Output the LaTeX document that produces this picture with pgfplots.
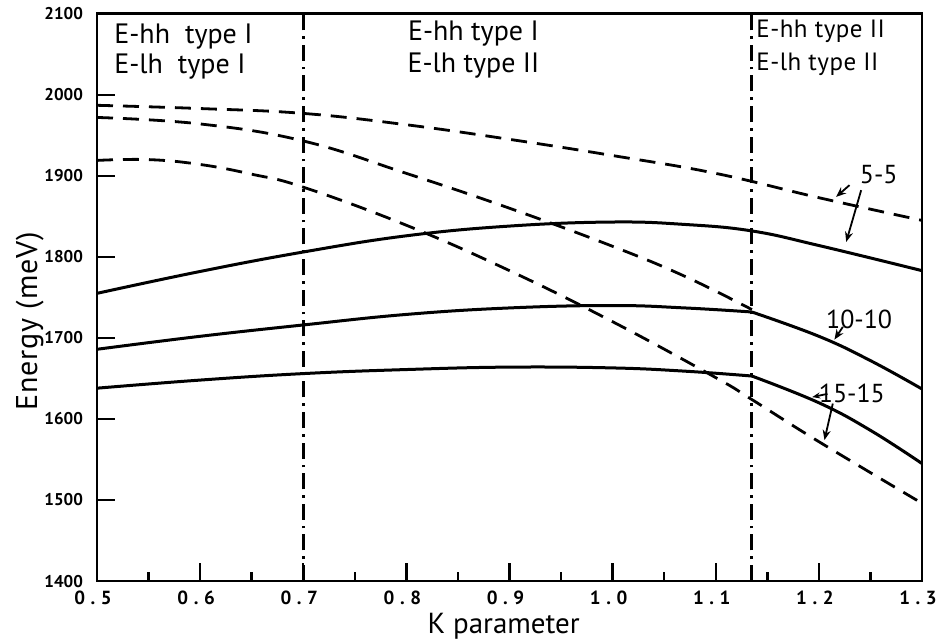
\documentclass[border=0pt]{standalone}
\usepackage{fontspec}
\setmainfont{PT Sans}
\usepackage{pgfplots}
\pgfplotsset{compat=1.18}
\usetikzlibrary{arrows.meta}
\newcommand{\tl}[2]{\mbox{\fontsize{9.5}{10}\selectfont\bfseries #1\hspace{2.8pt}.\hspace{2.8pt}#2}}
\begin{document}
\begin{tikzpicture}
\useasboundingbox (-48.5pt,-29.5pt) rectangle (421.5pt,290.55pt);
\begin{axis}[
  scale only axis, width=412.5pt, height=283.7pt,
  xmin=0.5, xmax=1.3, ymin=1400, ymax=2100,
  axis line style={line width=1.4pt},
  tick style={line width=1.2pt, black},
  tick align=inside,
  xtick pos=left, ytick pos=left,
  major tick length=9pt, minor tick length=4.5pt,
  xtick={0.5,0.6,0.7,0.8,0.9,1.0,1.1,1.2,1.3},
  minor xtick={0.55,0.65,0.75,0.85,0.95,1.05,1.15,1.25},
  xticklabels={\tl05,\tl06,\tl07,\tl08,\tl09,\tl10,\tl11,\tl12,\tl13},
  ytick={1400,1500,1600,1700,1800,1900,2000,2100},
  yticklabels={1400,1500,1600,1700,1800,1900,2000,2100},
  xticklabel style={font=\fontsize{9.5}{10}\selectfont\bfseries, yshift=-1.5pt, xshift=-2pt},
  yticklabel style={font=\fontsize{8.5}{9}\selectfont\bfseries, xshift=-3.5pt},
  xlabel={K parameter},
  xlabel style={font=\fontsize{14.5}{16}\selectfont, at={(axis description cs:0.493,-0.092)}, anchor=base},
  ylabel={Energy (meV)},
  ylabel style={font=\fontsize{15}{17}\selectfont\addfontfeature{LetterSpace=3}, at={(axis description cs:-0.0727,0.458)}, anchor=base},
]
% vertical dash-dot boundaries
\addplot[black, line width=1.4pt, dash pattern=on 8pt off 3pt on 1.3pt off 3pt] coordinates {(0.7,1400) (0.7,2100)};
\addplot[black, line width=1.4pt, dash pattern=on 8pt off 3pt on 1.3pt off 3pt] coordinates {(1.135,1400) (1.135,2100)};
% dashed curves
\addplot[black, line width=1.4pt, dash pattern=on 8pt off 5pt, smooth, tension=0.7] coordinates {
 (0.5,1987) (0.6,1983) (0.7,1977) (0.8,1963) (0.9,1945) (1.0,1925) (1.1,1903) (1.2,1873) (1.3,1845)};
\addplot[black, line width=1.4pt, dash pattern=on 8pt off 5pt, smooth, tension=0.7] coordinates {
 (0.5,1972) (0.6,1964) (0.7,1943) (0.8,1903) (0.9,1860) (1.0,1813) (1.07,1776) (1.135,1735)};
\addplot[black, line width=1.4pt, dash pattern=on 8pt off 5pt, smooth, tension=0.7] coordinates {
 (0.5,1919) (0.55,1920) (0.6,1914) (0.65,1902) (0.7,1886) (0.8,1839) (0.9,1783) (1.0,1720) (1.1,1651) (1.135,1624) (1.2,1572) (1.3,1496)};
% solid curves
\addplot[black, line width=1.5pt, smooth, tension=0.7] coordinates {
 (0.5,1755) (0.6,1782) (0.7,1806) (0.8,1826) (0.9,1838) (1.0,1843) (1.07,1840) (1.135,1832) (1.2,1814) (1.3,1783)};
\addplot[black, line width=1.5pt, smooth, tension=0.7] coordinates {
 (0.5,1686) (0.6,1702) (0.7,1716) (0.8,1729) (0.9,1737) (1.0,1740) (1.07,1737) (1.135,1732)};
\addplot[black, line width=1.5pt, smooth, tension=0.7] coordinates {
 (1.135,1732) (1.2,1702) (1.25,1672) (1.3,1637)};
\addplot[black, line width=1.5pt, smooth, tension=0.7] coordinates {
 (0.5,1638) (0.6,1648) (0.7,1656) (0.8,1661) (0.9,1664) (1.0,1663) (1.07,1659) (1.135,1653)};
\addplot[black, line width=1.5pt, smooth, tension=0.7] coordinates {
 (1.135,1653) (1.2,1620) (1.25,1586) (1.3,1545)};
% region labels
\node[anchor=base west, font=\fontsize{14}{16}\selectfont] at (axis cs:0.51,2063.8) {E-hh\ \ type I};
\node[anchor=base west, font=\fontsize{14}{16}\selectfont] at (axis cs:0.51,2026.8) {E-lh\ \ type I};
\node[anchor=base, font=\fontsize{14}{16}\selectfont] at (axis cs:0.865,2067.5) {E-hh type I};
\node[anchor=base, font=\fontsize{14}{16}\selectfont] at (axis cs:0.865,2028) {E-lh type II};
\node[anchor=base west, inner sep=0pt, font=\fontsize{12.5}{14}\selectfont\addfontfeature{LetterSpace=2}] at (axis cs:1.139,2070.8) {E-hh type II};
\node[anchor=base west, inner sep=0pt, font=\fontsize{12.5}{14}\selectfont\addfontfeature{LetterSpace=2}] at (axis cs:1.139,2029.6) {E-lh type II};
% curve labels
\node[anchor=base, font=\fontsize{13}{15}\selectfont] at (axis cs:1.258,1891) {5-5};
\node[anchor=base, font=\fontsize{13}{15}\selectfont] at (axis cs:1.239,1712) {10-10};
\node[anchor=base, font=\fontsize{13}{15}\selectfont] at (axis cs:1.232,1620.6) {15-15};
% arrows
\draw[line width=0.9pt, -{Stealth[length=5pt,width=4pt]}] (axis cs:1.2297,1888.5) -- (axis cs:1.2167,1874);
\draw[line width=0.9pt, -{Stealth[length=5pt,width=4pt]}] (axis cs:1.241,1882.3) -- (axis cs:1.2265,1818.5);
\draw[line width=0.9pt, -{Stealth[length=5pt,width=4pt]}] (axis cs:1.2232,1713.6) -- (axis cs:1.2151,1698);
\draw[line width=0.9pt, -{Stealth[length=4pt,width=3pt]}] (axis cs:1.2083,1631) -- (axis cs:1.1935,1627);
\draw[line width=0.9pt, -{Stealth[length=5pt,width=4pt]}] (axis cs:1.2135,1619) -- (axis cs:1.2054,1574);
\end{axis}
\end{tikzpicture}
\end{document}
